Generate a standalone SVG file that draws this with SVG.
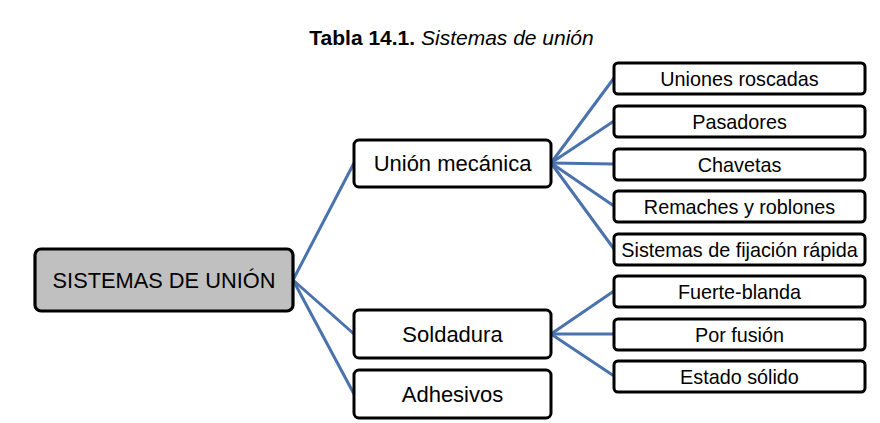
<svg xmlns="http://www.w3.org/2000/svg" width="880" height="423" viewBox="0 0 880 423">
<style>
.box{fill:#fff;stroke:#000;stroke-width:3}
.root{fill:#c0c0c0;stroke:#000;stroke-width:3.2}
.t{font-family:"Liberation Sans",Arial,sans-serif;fill:#000;text-anchor:middle}
.mid{font-size:22px}
.leaf{font-size:19.8px}
.conn line{stroke:#4a72ad;stroke-width:3}
</style>
<rect width="880" height="423" fill="#fff"/>
<text class="t" x="451.5" y="44.5" font-size="21"><tspan font-weight="bold">Tabla 14.1.</tspan> <tspan font-style="italic">Sistemas de unión</tspan></text>
<g class="conn">
<line x1="293" y1="280" x2="354" y2="163"/>
<line x1="293" y1="280" x2="354" y2="334"/>
<line x1="293" y1="280" x2="354" y2="394"/>
<line x1="551" y1="163" x2="614" y2="78"/>
<line x1="551" y1="163" x2="614" y2="121"/>
<line x1="551" y1="163" x2="614" y2="164"/>
<line x1="551" y1="163" x2="614" y2="206"/>
<line x1="551" y1="163" x2="614" y2="249"/>
<line x1="551" y1="334" x2="614" y2="291"/>
<line x1="551" y1="334" x2="614" y2="334"/>
<line x1="551" y1="334" x2="614" y2="376"/>
</g>
<g id="root"><rect class="root" x="35" y="249" width="258" height="62" rx="6"/><text class="t" x="164" y="287.5" font-size="21.8">SISTEMAS DE UNIÓN</text></g>
<g id="mecanica"><rect class="box" x="354" y="140" width="197" height="47" rx="5"/><text class="t mid" x="452.5" y="171">Unión mecánica</text></g>
<g id="soldadura"><rect class="box" x="354" y="310" width="197" height="48" rx="5"/><text class="t mid" x="452.5" y="342">Soldadura</text></g>
<g id="adhesivos"><rect class="box" x="354" y="370" width="197" height="48" rx="5"/><text class="t mid" x="452.5" y="402">Adhesivos</text></g>
<g id="roscadas"><rect class="box" x="614" y="63" width="251" height="31" rx="4"/><text class="t leaf" x="739.5" y="85.5">Uniones roscadas</text></g>
<g id="pasadores"><rect class="box" x="614" y="106" width="251" height="31" rx="4"/><text class="t leaf" x="739.5" y="128.5">Pasadores</text></g>
<g id="chavetas"><rect class="box" x="614" y="149" width="251" height="31" rx="4"/><text class="t leaf" x="739.5" y="171.5">Chavetas</text></g>
<g id="remaches"><rect class="box" x="614" y="191" width="251" height="31" rx="4"/><text class="t leaf" x="739.5" y="213.5">Remaches y roblones</text></g>
<g id="fijacion"><rect class="box" x="614" y="234" width="251" height="31" rx="4"/><text class="t leaf" x="739.5" y="256.5">Sistemas de fijación rápida</text></g>
<g id="fuerte"><rect class="box" x="614" y="276" width="251" height="31" rx="4"/><text class="t leaf" x="739.5" y="298.5">Fuerte-blanda</text></g>
<g id="fusion"><rect class="box" x="614" y="319" width="251" height="31" rx="4"/><text class="t leaf" x="739.5" y="341.5">Por fusión</text></g>
<g id="solido"><rect class="box" x="614" y="361" width="251" height="31" rx="4"/><text class="t leaf" x="739.5" y="383.5">Estado sólido</text></g>
</svg>
